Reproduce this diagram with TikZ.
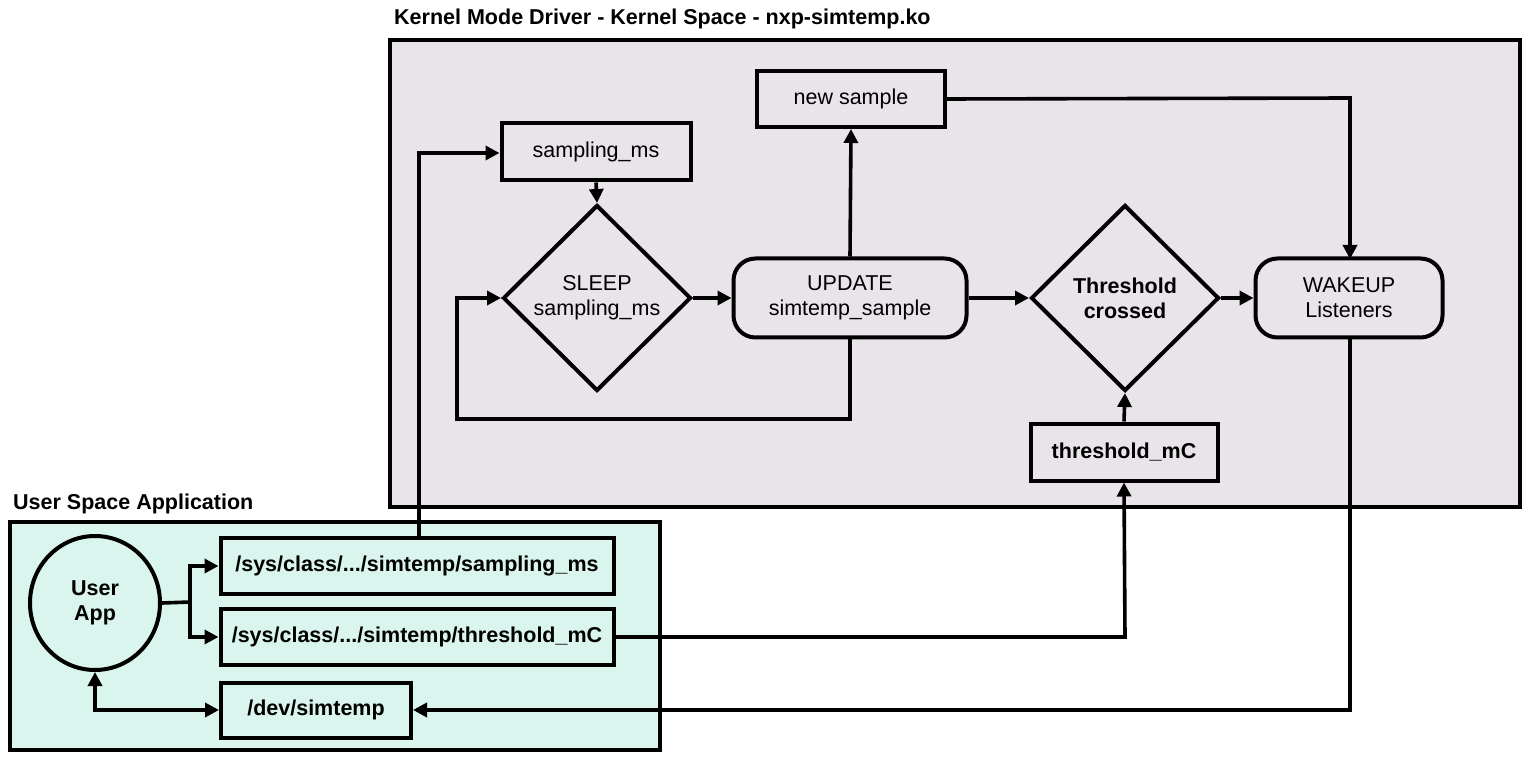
\documentclass[tikz,border=0pt]{standalone}
\usepackage{fontspec}
\setmainfont{Liberation Sans}
\usetikzlibrary{arrows.meta,shapes.geometric}
\definecolor{kfill}{RGB}{233,228,234}
\definecolor{ufill}{RGB}{218,244,238}
\tikzset{
  every node/.style={font=\fontsize{21.5}{25}\selectfont, align=center, inner sep=0pt},
  boldtxt/.style={font=\fontsize{21.5}{25}\selectfont\bfseries},
  rbox/.style={draw, line width=4pt, rectangle},
  rrbox/.style={draw, line width=4pt, rectangle, rounded corners=22pt},
  dbox/.style={draw, line width=4pt, diamond, minimum width=188pt, minimum height=186pt},
  conn/.style={line width=3.6pt, -{Triangle[length=14pt,width=14pt]}},
  plain/.style={line width=3.6pt},
  area/.style={draw, line width=4pt},
}
\begin{document}
\begin{tikzpicture}[x=1pt,y=-1pt]
\useasboundingbox (0,0) rectangle (1537,759);
% areas
\fill[white] (0,0) rectangle (1537,759);
\draw[area, fill=kfill] (390,40) rectangle (1520,507);
\node[boldtxt, anchor=west] (ktitle) at (394,19) {Kernel Mode Driver - Kernel Space - nxp-simtemp.ko};
\draw[area, fill=ufill] (10,522) rectangle (660,750);
\node[boldtxt, anchor=west] (utitle) at (13,504) {User Space Application};

% kernel nodes
\node[rbox, minimum width=188pt, minimum height=56pt] (newsample) at (851,99) {new sample};
\node[rbox, minimum width=189pt, minimum height=57pt] (sampms) at (596,152) {sampling\_ms};
\node[dbox] (sleep) at (597,298) {SLEEP\\sampling\_ms};
\node[rrbox, minimum width=233pt, minimum height=79pt] (update) at (850,298) {UPDATE\\simtemp\_sample};
\node[dbox, boldtxt] (thr) at (1125,298) {Threshold\\crossed};
\node[rrbox, minimum width=187pt, minimum height=79pt] (wake) at (1349,298) {WAKEUP\\Listeners};
\node[rbox, boldtxt, minimum width=187pt, minimum height=57pt] (thrmc) at (1124,452) {threshold\_mC};

% user nodes
\node[draw, line width=4pt, ellipse, minimum width=130pt, minimum height=134pt, boldtxt] (app) at (95,603) {User\\App};
\node[rbox, boldtxt, minimum width=393pt, minimum height=56pt] (syssamp) at (417,566) {/sys/class/.../simtemp/sampling\_ms};
\node[rbox, boldtxt, minimum width=393pt, minimum height=56pt] (systhr) at (417,637) {/sys/class/.../simtemp/threshold\_mC};
\node[rbox, boldtxt, minimum width=190pt, minimum height=55pt] (dev) at (316,710) {/dev/simtemp};

\coordinate (split) at (190,602);

% connectors
\draw[conn] (sampms.south) -- (sleep.north);
\draw[conn] (sleep.east) -- (update.west);
\draw[conn] (update.south) -- (850,419) -- (457,419) -- (457,298) -- (sleep.west);
\draw[conn] (update.north) -- (newsample.south);
\draw[conn] (newsample.east) -- (1350,98) -- (1350,259);
\draw[conn] (update.east) -- (thr.west);
\draw[conn] (thr.east) -- (wake.west);
\draw[conn] (thrmc.north) -- (thr.south);
\draw[conn] (wake.south -| 1350,0) -- (1350,710) -- (dev.east);
\draw[conn] (systhr.east) -- (1125,637) -- (thrmc.south);
\draw[conn] (syssamp.north -| 419,0) -- (419,153) -- (sampms.west |- 0,153);
\draw[plain] (app.east) -- (split);
\draw[conn] (split) |- (syssamp.west);
\draw[conn] (split) |- (systhr.west);
\draw[line width=3.6pt, {Triangle[length=14pt,width=14pt]}-{Triangle[length=14pt,width=14pt]}] (app.south) |- (dev.west);
\end{tikzpicture}
\end{document}
